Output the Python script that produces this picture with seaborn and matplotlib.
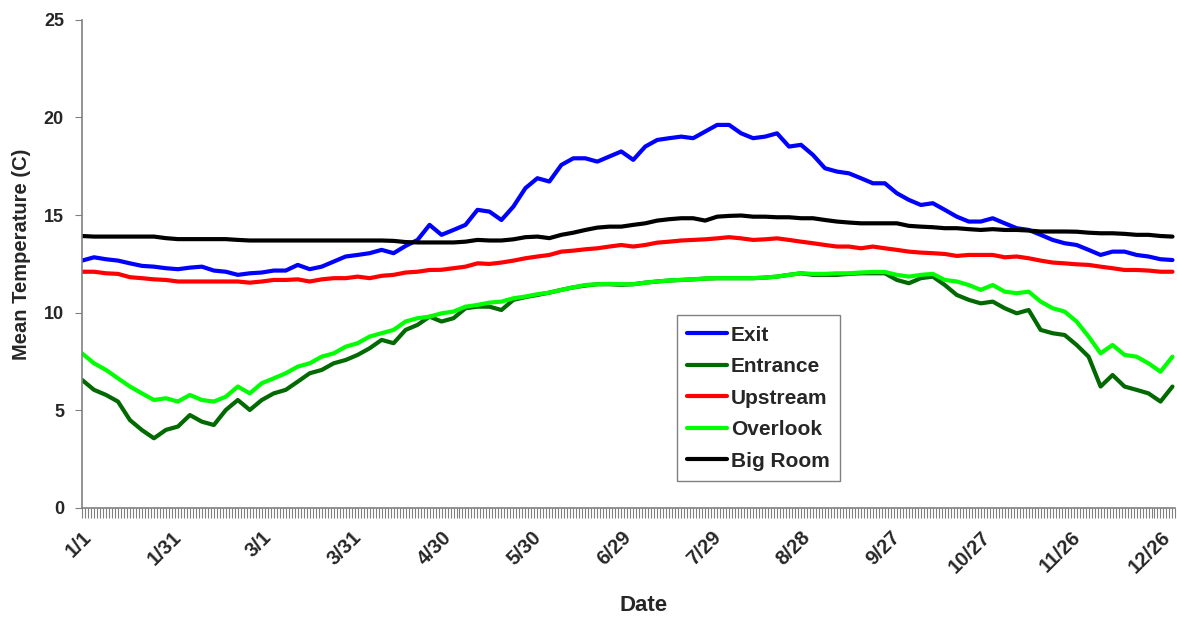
import numpy as np
import pandas as pd
import seaborn as sns
import matplotlib.pyplot as plt
from matplotlib.ticker import MultipleLocator, FixedLocator

# day of year (leap year), one reading every 4 days
days = np.arange(0, 365, 4)

exit_t = [12.67, 12.84, 12.74, 12.67, 12.53, 12.40, 12.36, 12.28, 12.23, 12.31, 12.36, 12.16, 12.10, 11.94, 12.02, 12.06,
          12.16, 12.16, 12.45, 12.23, 12.36, 12.62, 12.88, 12.96, 13.05, 13.22, 13.05, 13.42, 13.73, 14.50, 13.99,
          14.24, 14.50, 15.27, 15.18, 14.75, 15.44, 16.38, 16.89, 16.72, 17.57, 17.91, 17.91, 17.74, 18.00, 18.26,
          17.83, 18.51, 18.85, 18.94, 19.02, 18.94, 19.28, 19.62, 19.62, 19.19, 18.94, 19.02, 19.19, 18.51, 18.60,
          18.08, 17.40, 17.23, 17.14, 16.89, 16.63, 16.63, 16.12, 15.78, 15.52, 15.61, 15.27, 14.92, 14.67, 14.67,
          14.84, 14.58, 14.33, 14.24, 13.99, 13.73, 13.56, 13.47, 13.22, 12.96, 13.13, 13.13, 12.96, 12.88, 12.74, 12.70]

entrance_t = [6.56, 6.05, 5.79, 5.45, 4.50, 3.99, 3.57, 4.00, 4.17, 4.76, 4.42, 4.25, 5.02, 5.53, 5.02, 5.53,
              5.87, 6.05, 6.47, 6.90, 7.07, 7.41, 7.58, 7.84, 8.18, 8.61, 8.44, 9.12, 9.38, 9.80, 9.55,
              9.72, 10.23, 10.31, 10.31, 10.14, 10.66, 10.80, 10.91, 11.03, 11.17, 11.30, 11.39, 11.46, 11.46, 11.43,
              11.46, 11.54, 11.60, 11.65, 11.68, 11.71, 11.75, 11.77, 11.77, 11.77, 11.77, 11.80, 11.85, 11.94, 12.02,
              11.94, 11.94, 11.94, 11.99, 12.02, 12.02, 12.02, 11.68, 11.51, 11.77, 11.85, 11.42, 10.91, 10.66, 10.48,
              10.57, 10.23, 9.97, 10.14, 9.12, 8.95, 8.86, 8.35, 7.75, 6.22, 6.81, 6.22, 6.05, 5.87, 5.45, 6.22]

upstream_t = [12.10, 12.10, 12.02, 11.99, 11.82, 11.77, 11.71, 11.68, 11.60, 11.60, 11.60, 11.60, 11.60, 11.60, 11.54, 11.60,
              11.68, 11.68, 11.71, 11.60, 11.71, 11.77, 11.77, 11.85, 11.77, 11.89, 11.94, 12.06, 12.10, 12.19, 12.20,
              12.28, 12.36, 12.53, 12.50, 12.57, 12.67, 12.79, 12.88, 12.96, 13.13, 13.18, 13.25, 13.30, 13.39, 13.47,
              13.39, 13.47, 13.59, 13.64, 13.70, 13.73, 13.76, 13.81, 13.87, 13.81, 13.73, 13.76, 13.81, 13.73, 13.64,
              13.56, 13.47, 13.39, 13.39, 13.30, 13.39, 13.30, 13.22, 13.13, 13.08, 13.05, 13.01, 12.91, 12.96, 12.96,
              12.96, 12.84, 12.88, 12.79, 12.67, 12.57, 12.53, 12.48, 12.45, 12.36, 12.28, 12.19, 12.19, 12.16, 12.10, 12.10]

overlook_t = [7.92, 7.41, 7.07, 6.64, 6.22, 5.87, 5.53, 5.62, 5.45, 5.79, 5.53, 5.45, 5.70, 6.22, 5.87, 6.39,
              6.64, 6.90, 7.24, 7.41, 7.75, 7.92, 8.26, 8.44, 8.78, 8.95, 9.12, 9.55, 9.72, 9.80, 9.97,
              10.06, 10.31, 10.40, 10.52, 10.57, 10.74, 10.83, 10.95, 11.03, 11.17, 11.30, 11.42, 11.46, 11.48, 11.46,
              11.46, 11.54, 11.60, 11.65, 11.68, 11.71, 11.75, 11.77, 11.77, 11.77, 11.77, 11.80, 11.85, 11.94, 12.02,
              11.99, 11.99, 12.02, 12.02, 12.06, 12.09, 12.09, 11.94, 11.85, 11.94, 11.99, 11.68, 11.60, 11.42, 11.17,
              11.42, 11.08, 11.00, 11.08, 10.57, 10.23, 10.06, 9.55, 8.78, 7.92, 8.35, 7.84, 7.75, 7.41, 6.98, 7.75]

bigroom_t = [13.93, 13.90, 13.90, 13.90, 13.90, 13.90, 13.90, 13.82, 13.77, 13.77, 13.77, 13.77, 13.77, 13.73, 13.70, 13.70,
             13.70, 13.70, 13.70, 13.70, 13.70, 13.70, 13.70, 13.70, 13.70, 13.70, 13.68, 13.62, 13.60, 13.60, 13.60,
             13.60, 13.64, 13.73, 13.70, 13.70, 13.76, 13.87, 13.90, 13.82, 13.99, 14.10, 14.24, 14.36, 14.41, 14.41,
             14.50, 14.58, 14.72, 14.79, 14.84, 14.84, 14.72, 14.92, 14.96, 14.98, 14.92, 14.92, 14.89, 14.89, 14.84,
             14.84, 14.75, 14.67, 14.62, 14.58, 14.58, 14.58, 14.58, 14.45, 14.41, 14.38, 14.33, 14.33, 14.28, 14.24,
             14.28, 14.24, 14.24, 14.21, 14.16, 14.16, 14.16, 14.15, 14.10, 14.07, 14.07, 14.04, 13.99, 13.99, 13.93, 13.90]

sites = ['Exit', 'Entrance', 'Upstream', 'Overlook', 'Big Room']
colors = ['#0000ff', '#006a00', '#ff0000', '#00ff00', '#000000']
tick_days = [0, 30, 60, 90, 120, 150, 180, 210, 240, 270, 300, 330, 360]
tick_labels = ['1/1', '1/31', '3/1', '3/31', '4/30', '5/30', '6/29', '7/29', '8/28', '9/27', '10/27', '11/26', '12/26']

series = [exit_t, entrance_t, upstream_t, overlook_t, bigroom_t]
df = pd.concat([pd.DataFrame({'day': days, 'temp': s, 'site': name}) for name, s in zip(sites, series)])

sns.set_style('white')
plt.rcParams['font.family'] = ['Liberation Sans', 'DejaVu Sans']
plt.rcParams['font.weight'] = 'bold'

fig = plt.figure(figsize=(11.77, 6.21), dpi=100)
ax = fig.add_axes([0.0697, 0.182, 0.929, 0.786])

sns.lineplot(data=df, x='day', y='temp', hue='site', hue_order=sites,
             palette=dict(zip(sites, colors)), linewidth=3, estimator=None, ax=ax)

ax.set_xlim(0, 365)
ax.set_ylim(0, 25)
ax.yaxis.set_major_locator(MultipleLocator(5))
ax.xaxis.set_major_locator(FixedLocator(tick_days))
ax.xaxis.set_minor_locator(MultipleLocator(1))
ax.set_xticklabels(tick_labels, rotation=45, ha='right', rotation_mode='anchor', fontsize=14.5, fontweight='bold')
for lab in ax.get_yticklabels():
    lab.set_fontsize(13)
    lab.set_fontweight('bold')
ax.tick_params(axis='both', which='both', direction='out', color='#808080', width=0.8,
               bottom=True, left=True)
ax.tick_params(axis='x', which='both', length=7, pad=7)
ax.tick_params(axis='y', length=5, pad=8)

sns.despine(ax=ax)
for side in ['left', 'bottom']:
    ax.spines[side].set_color('#808080')
    ax.spines[side].set_linewidth(1.2)

ax.set_xlabel('Date', fontsize=16, fontweight='bold')
ax.xaxis.set_label_coords(0.514, -0.178)
ax.set_ylabel('Mean Temperature (C)', fontsize=14.5, fontweight='bold')
ax.yaxis.set_label_coords(-0.047, 0.52)

leg = ax.legend(loc='lower left', bbox_to_anchor=(0.544, 0.055), borderaxespad=0,
                fontsize=15, handlelength=1.9, handletextpad=0.2, labelspacing=0.6,
                fancybox=False, framealpha=1, edgecolor='#808080', borderpad=0.5)
for t in leg.get_texts():
    t.set_fontweight('bold')
for line in leg.get_lines():
    line.set_linewidth(3)

plt.savefig('out.png', dpi=100)
